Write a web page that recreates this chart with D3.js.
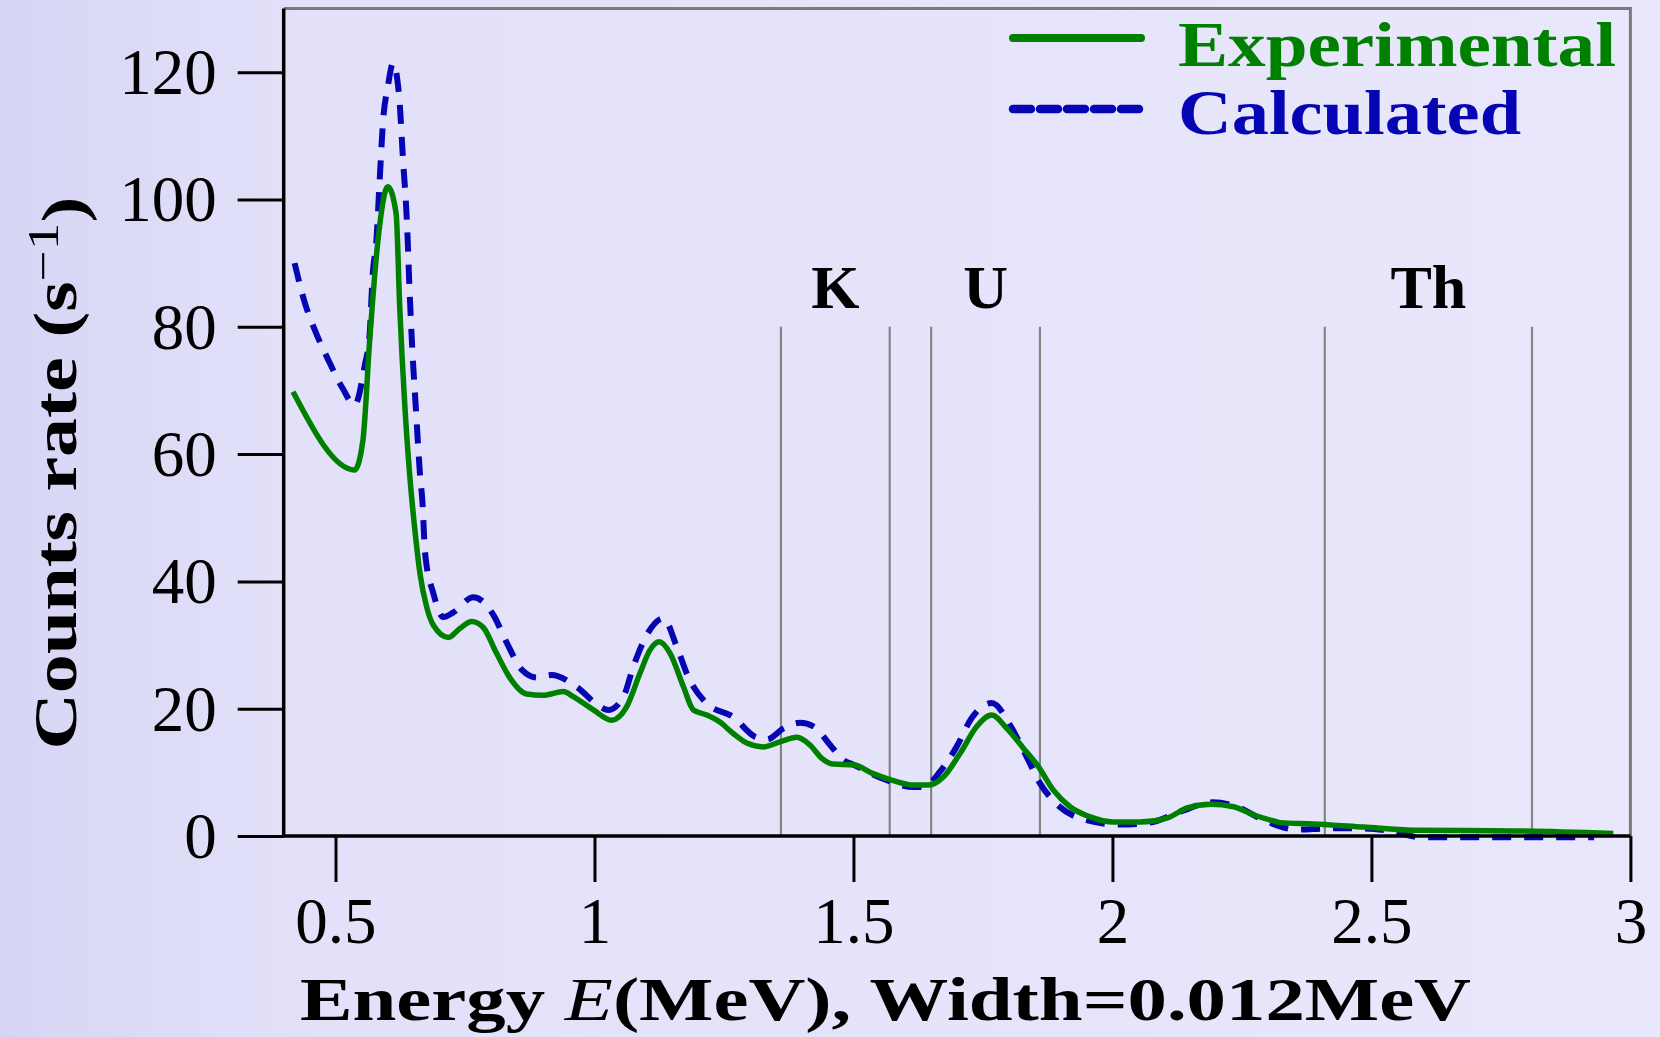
<!DOCTYPE html>
<html>
<head>
<meta charset="utf-8">
<script src="https://cdn.jsdelivr.net/npm/d3@7"></script>
<style>
  body { margin: 0; background: #e7e5fa; }
  svg { display: block; }
</style>
</head>
<body>
<svg id="chart"></svg>
<script>
// Experimental spectrum (green, solid)
const expEnergy = [0.418, 0.537, 0.553, 0.566, 0.582, 0.601, 0.617, 0.624, 0.634, 0.643, 0.654, 0.663, 0.676, 0.689,
    0.718, 0.740, 0.763, 0.785, 0.811, 0.837, 0.869, 0.901, 0.940, 0.959, 0.998, 1.033, 1.062, 1.088, 1.107, 1.125,
    1.146, 1.172, 1.191, 1.217, 1.242, 1.268, 1.294, 1.326, 1.358, 1.391, 1.416, 1.439, 1.461, 1.500, 1.538, 1.577,
    1.616, 1.645, 1.674, 1.706, 1.738, 1.767, 1.796, 1.828, 1.857, 1.886, 1.918, 1.957, 2.002, 2.053, 2.105, 2.144,
    2.190, 2.234, 2.273, 2.305, 2.324, 2.388, 2.485, 2.581, 2.774, 2.967];
const expCounts = [69.8, 57.5, 62.2, 77.9, 93.6, 102.0, 97.8, 83.1, 67.4, 57.0, 47.5, 41.3, 36.0, 33.1,
    31.2, 32.6, 33.7, 32.8, 28.7, 24.8, 22.3, 22.1, 22.7, 21.9, 19.8, 18.2, 20.3, 25.6, 29.2, 30.5,
    28.7, 23.4, 19.8, 19.0, 17.9, 16.1, 14.6, 14.0, 14.8, 15.5, 14.3, 12.2, 11.3, 11.2, 9.8, 8.7,
    8.0, 8.0, 9.3, 13.0, 17.2, 19.0, 16.9, 13.8, 10.9, 7.2, 4.6, 3.0, 2.2, 2.2, 2.8, 4.4,
    5.0, 4.6, 3.3, 2.5, 2.1, 1.9, 1.4, 0.9, 0.8, 0.4];

// Calculated spectrum (blue, dashed)
const calEnergy = [0.421, 0.441, 0.460, 0.486, 0.514, 0.537, 0.556, 0.566, 0.572, 0.579, 0.585, 0.592, 0.601, 0.611,
    0.623, 0.630, 0.638, 0.643, 0.648, 0.655, 0.663, 0.668, 0.673, 0.689, 0.708, 0.727, 0.766, 0.785, 0.805, 0.831,
    0.860, 0.889, 0.917, 0.966, 1.011, 1.027, 1.056, 1.075, 1.101, 1.133, 1.159, 1.181, 1.217, 1.268, 1.310, 1.333,
    1.365, 1.397, 1.423, 1.458, 1.481, 1.500, 1.551, 1.616, 1.635, 1.667, 1.699, 1.728, 1.767, 1.806, 1.834, 1.860,
    1.898, 1.950, 2.014, 2.072, 2.130, 2.194, 2.240, 2.292, 2.356, 2.421, 2.479, 2.537, 2.595, 2.750, 2.930];
const calCounts = [90.0, 83.7, 79.5, 74.8, 70.3, 67.7, 73.7, 79.0, 88.4, 93.6, 102.6, 112.5, 117.7, 121.4,
    116.1, 106.7, 96.3, 85.8, 76.9, 67.4, 57.0, 52.3, 44.4, 38.1, 34.4, 35.1, 37.5, 36.8, 34.7, 30.3,
    26.1, 24.9, 25.3, 23.4, 20.3, 19.8, 21.9, 26.6, 31.6, 34.2, 29.7, 25.0, 20.8, 18.7, 15.6, 15.2,
    16.9, 17.8, 17.2, 14.0, 11.9, 11.2, 9.2, 7.7, 7.7, 10.1, 14.0, 18.5, 20.9, 16.9, 12.5, 8.3,
    4.6, 2.5, 1.8, 2.1, 3.8, 5.3, 4.6, 2.5, 1.0, 1.2, 1.2, 0.8, -0.2, -0.2, -0.2];

// Energy windows (MeV)
const windowNames = ["K", "U", "Th"];
const windowLow = [1.36, 1.65, 2.41];
const windowHigh = [1.57, 1.86, 2.81];
const windowTop = 80;
const windowLabelY = 83;

const xTicks = [0.5, 1, 1.5, 2, 2.5, 3];
const yTicks = [0, 20, 40, 60, 80, 100, 120];
const seriesNames = ["Experimental", "Calculated"];

const width = 1660;
const height = 1037;
const plotLeft = 283.7, plotRight = 1630.4, plotTop = 8.5, plotBottom = 836;

const green = "#008000";
const blue = "#0505b4";
const serif = "'Liberation Serif', 'DejaVu Serif', serif";

const svg = d3.select("#chart")
    .attr("width", width)
    .attr("height", height)
    .attr("viewBox", [0, 0, width, height]);

// pale lavender background
const defs = svg.append("defs");
const grad = defs.append("linearGradient").attr("id", "bg").attr("x1", 0).attr("x2", 1).attr("y1", 0).attr("y2", 0);
grad.append("stop").attr("offset", 0).attr("stop-color", "#d6d5f4");
grad.append("stop").attr("offset", 0.18).attr("stop-color", "#e3e1f9");
grad.append("stop").attr("offset", 1).attr("stop-color", "#e9e7fb");
svg.append("rect").attr("width", width).attr("height", height).attr("fill", "url(#bg)");

const x = d3.scaleLinear().domain([0.4, 3.0]).range([plotLeft, plotRight]);
const y = d3.scaleLinear().domain([0, 130]).range([plotBottom, plotTop]);

// frame: gray top and right
svg.append("path")
    .attr("d", `M${x(0.4)},${y(130)}H${x(3.0)}V${y(0)}`)
    .attr("fill", "none")
    .attr("stroke", "#7a7a7a")
    .attr("stroke-width", 3);

// window lines
const windows = windowNames.map((n, i) => ({ name: n, lo: windowLow[i], hi: windowHigh[i] }));
svg.append("g")
    .selectAll("line")
    .data(windows.flatMap(w => [w.lo, w.hi]))
    .join("line")
    .attr("x1", d => x(d)).attr("x2", d => x(d))
    .attr("y1", y(0)).attr("y2", y(windowTop))
    .attr("stroke", "#858585")
    .attr("stroke-width", 2.2);

svg.append("g")
    .selectAll("text")
    .data(windows)
    .join("text")
    .attr("x", d => x((d.lo + d.hi) / 2))
    .attr("y", y(windowLabelY))
    .attr("text-anchor", "middle")
    .style("font-family", serif)
    .style("font-weight", "bold")
    .style("font-size", "62px")
    .attr("fill", "#000")
    .text(d => d.name);

// curves
const line = d3.line()
    .x(d => x(d[0]))
    .y(d => y(d[1]))
    .curve(d3.curveMonotoneX);

svg.append("path")
    .datum(d3.zip(calEnergy, calCounts))
    .attr("fill", "none")
    .attr("stroke", blue)
    .attr("stroke-width", 6)
    .attr("stroke-dasharray", "19 13")
    .attr("d", line);

svg.append("path")
    .datum(d3.zip(expEnergy, expCounts))
    .attr("fill", "none")
    .attr("stroke", green)
    .attr("stroke-width", 5.5)
    .attr("stroke-linejoin", "round")
    .attr("d", line);

// axes
const xAxis = svg.append("g")
    .attr("transform", `translate(0,${plotBottom})`)
    .call(d3.axisBottom(x).tickValues(xTicks).tickSize(46).tickFormat(d3.format("")));
xAxis.select(".domain").remove();
xAxis.selectAll(".tick line").attr("stroke", "#000").attr("stroke-width", 3);
xAxis.selectAll(".tick text")
    .attr("y", 107).attr("dy", null)
    .attr("fill", "#000")
    .style("font-family", serif)
    .style("font-size", "65px");

const yAxis = svg.append("g")
    .attr("transform", `translate(${plotLeft},0)`)
    .call(d3.axisLeft(y).tickValues(yTicks).tickSize(46).tickPadding(21));
yAxis.select(".domain").remove();
yAxis.selectAll(".tick line").attr("stroke", "#000").attr("stroke-width", 3);
yAxis.selectAll(".tick text")
    .attr("dy", "0.33em")
    .attr("fill", "#000")
    .style("font-family", serif)
    .style("font-size", "65px");

// black axis lines
svg.append("path")
    .attr("d", `M${plotLeft},${y(130)}V${plotBottom}H${plotRight}`)
    .attr("fill", "none")
    .attr("stroke", "#000")
    .attr("stroke-width", 3.5);

// axis titles
const xTitle = svg.append("text")
    .attr("x", 300)
    .attr("y", 1020)
    .attr("textLength", 1171)
    .attr("lengthAdjust", "spacingAndGlyphs")
    .style("font-family", serif)
    .style("font-weight", "bold")
    .style("font-size", "62px")
    .attr("fill", "#000");
xTitle.append("tspan").text("Energy ");
xTitle.append("tspan").style("font-style", "italic").style("font-weight", "normal").text("E");
xTitle.append("tspan").text("(MeV), Width=0.012MeV");

const yTitle = svg.append("text")
    .attr("transform", "translate(76,473) rotate(-90)")
    .attr("text-anchor", "middle")
    .attr("textLength", 553)
    .attr("lengthAdjust", "spacingAndGlyphs")
    .style("font-family", serif)
    .style("font-weight", "bold")
    .style("font-size", "62px")
    .attr("fill", "#000");
yTitle.append("tspan").text("Counts rate (s");
yTitle.append("tspan").attr("dy", "-0.42em").style("font-size", "44px").style("font-weight", "normal").text("−1");
yTitle.append("tspan").attr("dy", "0.42em").text(")");

// legend
const legend = svg.append("g");
const legendRows = [
    { name: seriesNames[0], color: green, dash: null, width: 8, ly: 38, ty: 66, tl: 438 },
    { name: seriesNames[1], color: blue, dash: "18 9", width: 8.5, ly: 109, ty: 134, tl: 343 }
];
legendRows.forEach(r => {
    legend.append("line")
        .attr("x1", 1013).attr("x2", 1141)
        .attr("y1", r.ly).attr("y2", r.ly)
        .attr("stroke", r.color)
        .attr("stroke-width", r.width)
        .attr("stroke-linecap", "round")
        .attr("stroke-dasharray", r.dash);
    legend.append("text")
        .attr("x", 1178)
        .attr("y", r.ty)
        .attr("textLength", r.tl)
        .attr("lengthAdjust", "spacingAndGlyphs")
        .style("font-family", serif)
        .style("font-weight", "bold")
        .style("font-size", "64px")
        .attr("fill", r.color)
        .text(r.name);
});
</script>
</body>
</html>
